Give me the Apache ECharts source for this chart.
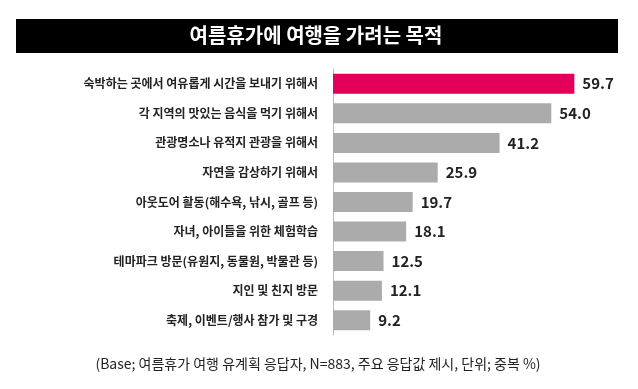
<!DOCTYPE html>
<html><head><meta charset="utf-8">
<script src="https://cdn.jsdelivr.net/npm/echarts@6/dist/echarts.min.js"></script>
<style>html,body{margin:0;padding:0;background:#fff}#c{width:638px;height:389px}</style>
</head><body><div id="c"></div>
<script>
const titleText = '여름휴가에 여행을 가려는 목적';
const noteText = '(Base; 여름휴가 여행 유계획 응답자, N=883, 주요 응답값 제시, 단위; 중복 %)';
const categories = [
  '숙박하는 곳에서 여유롭게 시간을 보내기 위해서',
  '각 지역의 맛있는 음식을 먹기 위해서',
  '관광명소나 유적지 관광을 위해서',
  '자연을 감상하기 위해서',
  '아웃도어 활동(해수욕, 낚시, 골프 등)',
  '자녀, 아이들을 위한 체험학습',
  '테마파크 방문(유원지, 동물원, 박물관 등)',
  '지인 및 친지 방문',
  '축제, 이벤트/행사 참가 및 구경'
];
const values = [59.7, 54.0, 41.2, 25.9, 19.7, 18.1, 12.5, 12.1, 9.2];
const highlightIndex = 0;

const font = '"Noto Sans CJK KR", "Noto Sans", sans-serif';
const chart = echarts.init(document.getElementById('c'), null, {renderer: 'canvas'});
chart.setOption({
  animation: false,
  backgroundColor: '#fff',
  graphic: [
    {type: 'rect', shape: {x: 16, y: 19, width: 602, height: 34}, style: {fill: '#000'}, z: 0},
    {type: 'text', x: 316, y: 35, style: {text: titleText, fill: '#fff', font: 'bold 20px ' + font, textAlign: 'center', textVerticalAlign: 'middle'}, z: 1},
    {type: 'text', x: 318, y: 364, style: {text: noteText, fill: '#222', font: '14px ' + font, textAlign: 'center', textVerticalAlign: 'middle'}, z: 1}
  ],
  grid: {left: 333, right: 22, top: 69, height: 266, containLabel: false},
  xAxis: {type: 'value', min: 0, max: 70, show: false},
  yAxis: {
    type: 'category', data: categories, inverse: true,
    axisLine: {show: true, lineStyle: {color: '#bbb', width: 1}},
    axisTick: {show: false},
    axisLabel: {margin: 15, color: '#222', fontSize: 12, fontWeight: 'bold', fontFamily: font}
  },
  series: [{
    type: 'bar', barWidth: 20,
    data: values.map((v, i) => ({value: v, itemStyle: {color: i === highlightIndex ? '#E2005A' : '#ABABAB'}})),
    label: {show: true, position: 'right', distance: 8, color: '#222', fontSize: 15, fontWeight: 'bold', fontFamily: font, formatter: p => p.value.toFixed(1)}
  }]
});
</script></body></html>
